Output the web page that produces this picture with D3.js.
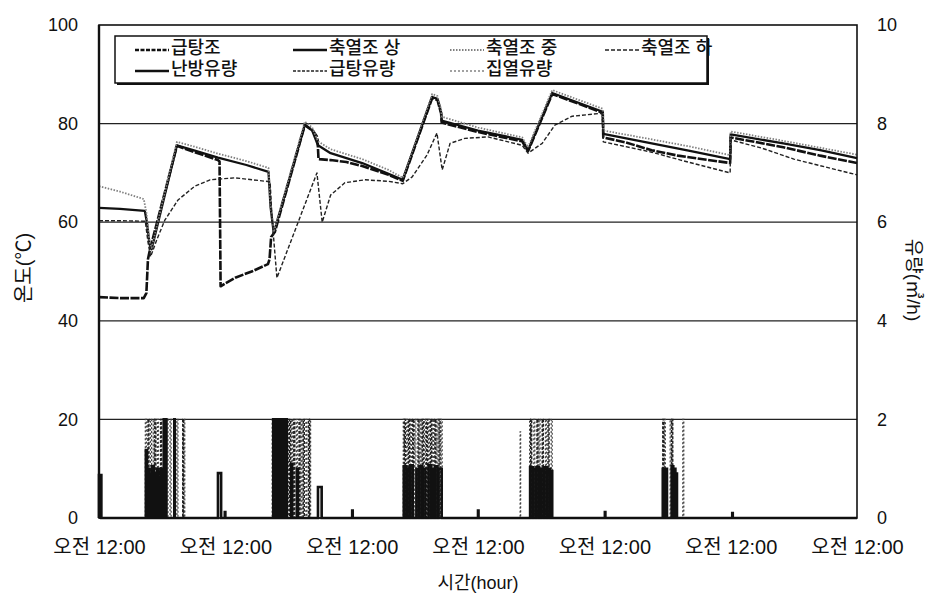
<!DOCTYPE html>
<html>
<head>
<meta charset="utf-8">
<script src="https://cdn.jsdelivr.net/npm/d3@7"></script>
<style>
  body { margin: 0; background: #fff; }
  svg text { font-family: "Liberation Sans", "Noto Sans CJK KR", sans-serif; fill: #111; }
</style>
</head>
<body>
<svg id="chart" width="927" height="599"></svg>
<script>
// ---- axes ----
const dayTicks = [0, 24, 48, 72, 96, 120, 144];          // hours since first midnight
const dayTickLabel = "오전 12:00";
const tempTicks = [0, 20, 40, 60, 80, 100];               // °C
const flowTicks = [0, 2, 4, 6, 8, 10];                    // m³/h

// ---- temperatures [hour, °C] ----
const hotWaterTank = [
  [0,44.8],[4,44.6],[8.5,44.6],[9.0,45.6],[9.3,52.5],[9.7,54.5],[14.8,75.5],[18.2,74.2],
  [22.6,72.6],[22.9,72.3],[23.1,47.0],[24,47.6],[26,48.8],[29,50.0],[32.1,51.5],[32.4,52.5],
  [32.7,57.0],[33.4,58.0],[39.1,79.7],[40.6,78.6],[41.5,77.2],[41.7,72.8],[44,72.6],[47,72.2],
  [50,71.4],[55,69.6],[57.7,68.4],[63.3,85.2],[64.3,84.8],[65.0,82.0],[65.1,80.2],[72,78.3],
  [80.4,76.4],[81.5,74.4],[86.1,86.0],[95.7,82.2],[95.8,77.2],[100,76.2],[105,74.6],[110,73.5],
  [119.9,72.0],[120,77.2],[125,76.2],[130,75.2],[137,73.5],[144,72.0]
];
const tankTop = [
  [0,62.9],[4,62.7],[8.7,62.3],[9.1,60.0],[9.6,55.5],[10.0,54.5],[14.8,75.6],[18.2,74.5],
  [22.6,73.1],[28,71.6],[32.2,70.2],[32.6,63.0],[33.2,57.8],[39.1,79.8],[40.5,78.6],[41.6,75.6],
  [44,74.0],[50,72.0],[55,69.8],[57.7,68.6],[63.3,85.4],[64.3,85.0],[65.0,82.3],[65.1,80.6],
  [72,78.6],[80.4,76.7],[81.5,74.6],[86.1,86.2],[95.7,82.4],[95.8,77.9],[105,76.0],[112,74.5],
  [119.9,72.8],[120,77.8],[130,76.0],[137,74.6],[144,73.0]
];
const tankMid = [
  [0,67.3],[4,66.2],[8.5,64.7],[9.0,62.0],[9.6,56.0],[10.0,54.8],[14.8,76.3],[18.2,75.3],
  [22.6,73.9],[28,72.4],[32.2,71.0],[32.6,63.5],[33.2,58.0],[39.1,80.4],[40.5,79.2],[41.6,76.4],
  [44,74.8],[50,72.8],[55,70.6],[57.7,69.0],[63.3,86.0],[64.3,85.6],[65.0,82.8],[65.1,81.4],
  [72,79.2],[80.4,77.2],[81.5,75.2],[86.1,86.8],[95.7,83.0],[95.8,78.6],[105,76.8],[112,75.4],
  [119.9,73.6],[120,78.4],[130,76.5],[137,75.1],[144,73.7]
];
const tankBottom = [
  [0,60.3],[4,60.3],[8.8,60.2],[9.3,56.0],[9.8,53.0],[11,56.5],[12.5,60.4],[15,64.5],[18.2,67.3],
  [21.1,68.6],[25.8,69.0],[32.5,68.2],[32.9,60.4],[33.8,48.7],[41.4,70.0],[42.4,60.0],[44,65.5],
  [46.7,68.0],[50.5,68.6],[55,68.3],[57.7,67.8],[59.5,69.2],[62.3,73.6],[64.2,78.1],[65.2,70.6],
  [66.7,76.0],[69.5,77.0],[73.9,77.3],[80.4,75.6],[81.5,74.0],[84.2,76.0],[86.6,79.7],[89.9,81.5],
  [95.6,82.1],[95.8,76.3],[105,74.2],[110.5,72.6],[119.9,70.0],[120,76.7],[126,75.0],[132,72.8],
  [144,69.6]
];

// ---- flows: pump on-periods [start hour, end hour, m³/h] ----
const heatingFlow = [
  [0.0,0.45,0.87],
  [8.9,9.1,1.38],[9.2,9.6,1.0],[9.7,10.0,0.85],[10.1,10.4,1.05],[10.5,10.8,0.9],[11.0,11.3,1.0],
  [11.4,11.6,0.8],[11.8,12.1,1.0],[12.3,12.5,2.0],[12.6,12.8,2.0],[14.3,14.4,2.0],
  [22.6,23.2,0.91],[23.9,24.0,0.12],
  [33.1,33.3,2.0],[33.4,33.6,2.0],[33.7,34.0,2.0],[34.1,34.3,2.0],[34.4,34.7,2.0],[34.8,35.0,2.0],
  [35.1,35.4,2.0],[35.5,35.7,2.0],[36.5,36.7,1.1],[37.6,37.8,1.0],
  [41.6,42.3,0.63],[48.1,48.2,0.15],
  [57.9,58.4,1.05],[58.5,59.0,1.0],[59.1,59.6,1.07],[60.3,60.8,1.0],[60.9,61.4,1.05],[61.5,62.0,1.0],
  [62.6,63.1,1.07],[63.2,63.7,1.0],[63.8,64.3,1.05],[64.5,65.1,1.0],
  [72.0,72.1,0.15],
  [81.9,82.4,1.03],[82.5,83.0,1.0],[83.1,83.6,1.03],[84.0,84.5,1.0],[84.6,85.1,1.03],[85.2,85.7,1.0],
  [85.8,86.1,0.95],
  [96.1,96.2,0.12],
  [107.1,107.4,1.0],[107.5,107.9,1.0],[108.8,109.1,1.05],[109.2,109.5,1.0],[109.6,109.8,0.9],
  [120.3,120.4,0.1]
];
const hotWaterFlow = [
  [9.3,9.5,2.0],[10.6,10.8,2.0],[11.7,11.9,2.0],[12.4,12.6,2.0],[14.3,14.5,2.0],[15.9,16.1,2.0],
  [33.0,33.2,2.0],[33.8,34.0,2.0],[34.6,34.8,2.0],[35.4,35.6,2.0],[36.2,36.4,2.0],[37.0,37.2,2.0],
  [38.0,38.2,2.0],[38.8,39.0,2.0],[39.8,40.0,2.0],
  [58.0,58.2,2.0],[58.8,59.0,2.0],[59.6,59.8,2.0],[60.6,60.8,2.0],[61.4,61.6,2.0],[62.2,62.4,2.0],
  [63.0,63.2,2.0],[63.8,64.0,2.0],[64.6,64.8,2.0],
  [82.0,82.2,2.0],[83.2,83.4,2.0],[84.2,84.4,2.0],[85.3,85.5,2.0],
  [107.1,107.3,2.0],[108.8,109.0,2.0]
];
const solarFlow = [
  [8.8,9.0,2.0],[9.8,10.0,2.0],[10.3,10.5,2.0],[11.1,11.3,2.0],[12.9,13.1,2.0],[13.5,13.7,2.0],
  [14.8,15.0,2.0],[16.0,16.3,2.0],
  [32.9,33.1,2.0],[33.5,33.7,2.0],[34.2,34.4,2.0],[35.0,35.2,2.0],[35.8,36.0,2.0],[36.6,36.8,2.0],
  [37.5,37.7,2.0],[38.4,38.6,2.0],[39.3,39.5,2.0],[40.0,40.2,2.0],
  [57.8,58.0,2.0],[58.4,58.6,2.0],[59.2,59.4,2.0],[60.0,60.2,2.0],[61.0,61.2,2.0],[61.8,62.0,2.0],
  [62.6,62.8,2.0],[63.4,63.6,2.0],[64.2,64.4,2.0],[65.0,65.2,2.0],
  [80.0,80.1,1.75],[81.8,82.0,2.0],[82.6,82.8,2.0],[83.6,83.8,2.0],[84.8,85.0,2.0],[85.9,86.1,2.0],
  [107.4,107.6,2.0],[108.5,108.7,2.0],[110.9,111.1,2.0]
];

// ---- styles ----
const tempSeries = [
  { name: "급탕조",   data: hotWaterTank, color: "#111", width: 2.6, dash: "9,1.5" },
  { name: "축열조 상", data: tankTop,      color: "#111", width: 2.3, dash: null },
  { name: "축열조 중", data: tankMid,      color: "#808080", width: 1.8, dash: "1.5,1.5" },
  { name: "축열조 하", data: tankBottom,   color: "#222", width: 1.4, dash: "4,2" }
];
const flowSeries = [
  { name: "난방유량", data: heatingFlow,  color: "#111", width: 2.6, dash: null },
  { name: "급탕유량", data: hotWaterFlow, color: "#222", width: 1.4, dash: "3,1.5" },
  { name: "집열유량", data: solarFlow,    color: "#444", width: 1.2, dash: "2,2" }
];
const legendDash = ["4,1.5", null, "1.5,1.5", "4,2", null, "3,1.5", "2,2"];

const m = { left: 99, right: 857, top: 25, bottom: 518 };
const svg = d3.select("#chart");

const x = d3.scaleLinear().domain([0, 144]).range([m.left, m.right]);
const yT = d3.scaleLinear().domain([0, 100]).range([m.bottom, m.top]);
const yF = d3.scaleLinear().domain([0, 10]).range([m.bottom, m.top]);

// gridlines
svg.append("g").selectAll("line").data(tempTicks.filter(t => t > 0 && t < 100)).join("line")
  .attr("x1", m.left).attr("x2", m.right)
  .attr("y1", d => yT(d)).attr("y2", d => yT(d))
  .attr("stroke", "#222").attr("stroke-width", 1.2);

// flows as pulse step paths
const pulsePoints = pulses => {
  const pts = [[0, 0]];
  pulses.forEach(([s, e, v]) => { pts.push([s, 0], [s, v], [e, v], [e, 0]); });
  pts.push([144, 0]);
  return pts;
};
const flowLine = d3.line().x(d => x(d[0])).y(d => yF(d[1]));
const plot = svg.append("g");
flowSeries.slice().reverse().forEach(s => {
  plot.append("path").attr("d", flowLine(pulsePoints(s.data)))
    .attr("fill", "none").attr("stroke", s.color).attr("stroke-width", s.width)
    .attr("stroke-dasharray", s.dash);
});

// temperature lines
const tLine = d3.line().x(d => x(d[0])).y(d => yT(d[1]));
tempSeries.forEach(s => {
  plot.append("path").attr("d", tLine(s.data))
    .attr("fill", "none").attr("stroke", s.color).attr("stroke-width", s.width)
    .attr("stroke-dasharray", s.dash).attr("stroke-linejoin", "round");
});

// frame
svg.append("rect").attr("x", m.left).attr("y", m.top)
  .attr("width", m.right - m.left).attr("height", m.bottom - m.top)
  .attr("fill", "none").attr("stroke", "#111").attr("stroke-width", 1.6);
svg.append("line").attr("x1", m.left).attr("x2", m.left).attr("y1", m.top).attr("y2", m.bottom)
  .attr("stroke", "#111").attr("stroke-width", 2.4);

// axes
const leftAxis = svg.append("g").attr("transform", `translate(${m.left},0)`)
  .call(d3.axisLeft(yT).tickValues(tempTicks).tickSize(0).tickPadding(21));
const rightAxis = svg.append("g").attr("transform", `translate(${m.right},0)`)
  .call(d3.axisRight(yF).tickValues(flowTicks).tickSize(0).tickPadding(20));
const bottomAxis = svg.append("g").attr("transform", `translate(0,${m.bottom})`)
  .call(d3.axisBottom(x).tickValues(dayTicks).tickFormat(() => dayTickLabel).tickSize(0).tickPadding(22));
[leftAxis, rightAxis, bottomAxis].forEach(g => {
  g.select(".domain").remove();
  g.selectAll("text").attr("font-size", 18).attr("fill", "#111")
    .style("font-family", '"Liberation Sans","Noto Sans CJK KR",sans-serif');
});
bottomAxis.selectAll("text").attr("font-size", 20);

// axis titles
svg.append("text").attr("transform", "translate(26,268) rotate(-90)")
  .attr("text-anchor", "middle").attr("dominant-baseline", "middle")
  .attr("font-size", 20).text("온도(℃)");
svg.append("text").attr("transform", "translate(912,280) rotate(90)")
  .attr("text-anchor", "middle").attr("dominant-baseline", "middle")
  .attr("font-size", 19).text("유량(㎥/h)");
svg.append("text").attr("x", 478).attr("y", 589).attr("text-anchor", "middle")
  .attr("font-size", 18).text("시간(hour)");

// legend
const lg = svg.append("g");
const box = { x: 115, y: 36, w: 592, h: 47 };
lg.append("rect").attr("x", box.x + 2).attr("y", box.y + 2).attr("width", box.w).attr("height", box.h)
  .attr("fill", "#111");
lg.append("rect").attr("x", box.x).attr("y", box.y).attr("width", box.w).attr("height", box.h)
  .attr("fill", "#fff").attr("stroke", "#111").attr("stroke-width", 1.5);
const legendItems = [
  ...tempSeries.map((s, i) => ({ s, col: i, row: 0, k: i })),
  ...flowSeries.map((s, i) => ({ s, col: i, row: 1, k: 4 + i }))
];
const colX = [135, 293, 450, 605];
const rowY = [49, 70];
legendItems.forEach(({ s, col, row, k }) => {
  const x0 = colX[col], yy = rowY[row];
  lg.append("line").attr("x1", x0).attr("x2", x0 + 34).attr("y1", yy + 1).attr("y2", yy + 1)
    .attr("stroke", s.color).attr("stroke-width", Math.min(s.width, 2.4))
    .attr("stroke-dasharray", legendDash[k]);
  lg.append("text").attr("x", x0 + 36).attr("y", yy).attr("dominant-baseline", "middle")
    .attr("font-size", 18).attr("font-weight", 500).text(s.name);
});
</script>
</body>
</html>
